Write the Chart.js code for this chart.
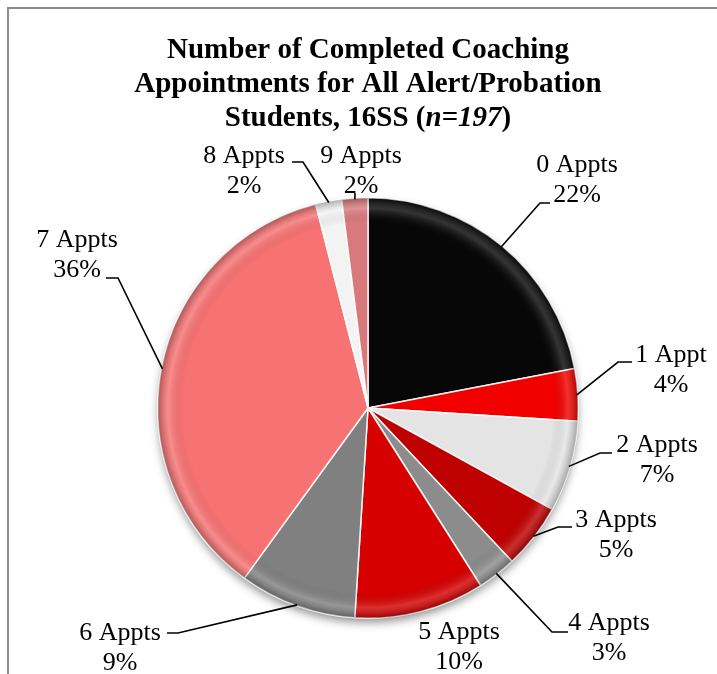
<!DOCTYPE html>
<html><head><meta charset="utf-8">
<script src="https://cdn.jsdelivr.net/npm/chart.js@4.4.1/dist/chart.umd.min.js"></script>
<style>html,body{margin:0;padding:0;background:#fff;} canvas{display:block;}</style>
</head><body>
<canvas id="c" width="717" height="674"></canvas>
<script>
// ---- data ----
const categories = ['0 Appts','1 Appt','2 Appts','3 Appts','4 Appts','5 Appts','6 Appts','7 Appts','8 Appts','9 Appts'];
const percentValues = [22, 4, 7, 5, 3, 10, 9, 36, 2, 2];
const titleLines = ['Number of Completed Coaching', 'Appointments for All Alert/Probation'];
const titleLastLine = [['Students, 16SS (', false], ['n=197', true], [')', false]];

// ---- styles / layout ----
const sliceColors = ['#070707','#f20000','#e4e4e4','#bf0000','#8c8c8c','#d60000','#808080','#f77272','#f3f3f3','#d87a7d'];
const labelLayout = [
  {x:577, y:165, leader:[550,203,540,203]},
  {x:671, y:355, leader:[632,362,618,362]},
  {x:657, y:445, leader:[612,453,600,453]},
  {x:616, y:520, leader:[572,527,558,527]},
  {x:609, y:623, leader:[568,632,552,632]},
  {x:459, y:632, leader:null},
  {x:120, y:633, leader:[167,633,178,633]},
  {x:77,  y:240, leader:[106,278,118,278]},
  {x:244, y:156, leader:[292,162,303,162]},
  {x:361, y:156, leader:[355,193,355,193]}
];
const LABEL_FONT = '26px "Liberation Serif", "Times New Roman", serif';
const TITLE_FONT = 'bold 29px "Liberation Serif", "Times New Roman", serif';
const TITLE_FONT_I = 'italic bold 29px "Liberation Serif", "Times New Roman", serif';

const framePlugin = {
  id: 'frame',
  beforeDraw(chart) {
    const ctx = chart.ctx;
    ctx.save();
    ctx.fillStyle = '#fff';
    ctx.fillRect(0, 0, chart.width, chart.height);
    ctx.strokeStyle = '#8c8c8c';
    ctx.lineWidth = 2;
    ctx.beginPath();
    ctx.moveTo(8, chart.height);
    ctx.lineTo(8, 8);
    ctx.lineTo(chart.width, 8);
    ctx.stroke();
    ctx.restore();
  }
};

const shadowPlugin = {
  id: 'pieShadow',
  beforeDatasetsDraw(chart) {
    const arc = chart.getDatasetMeta(0).data[0];
    if (!arc) return;
    const ctx = chart.ctx;
    ctx.save();
    ctx.shadowColor = 'rgba(0,0,0,0.45)';
    ctx.shadowBlur = 10;
    ctx.shadowOffsetY = 5;
    ctx.fillStyle = '#fff';
    ctx.beginPath();
    ctx.arc(arc.x, arc.y, arc.outerRadius - 1, 0, Math.PI * 2);
    ctx.fill();
    ctx.restore();
  },
  afterDatasetsDraw(chart) {
    const ctx = chart.ctx;
    chart.getDatasetMeta(0).data.forEach(arc => {
      const r = arc.outerRadius;
      ctx.save();
      ctx.beginPath();
      ctx.moveTo(arc.x, arc.y);
      ctx.arc(arc.x, arc.y, r, arc.startAngle, arc.endAngle);
      ctx.closePath();
      ctx.clip();
      const g = ctx.createRadialGradient(arc.x, arc.y, 0, arc.x, arc.y, r);
      g.addColorStop(0, 'rgba(0,0,0,0)');
      g.addColorStop(0.88, 'rgba(0,0,0,0)');
      g.addColorStop(0.95, 'rgba(255,255,255,0.18)');
      g.addColorStop(1, 'rgba(0,0,0,0.28)');
      ctx.fillStyle = g;
      ctx.fillRect(arc.x - r, arc.y - r, 2 * r, 2 * r);
      ctx.restore();
    });
  }
};

const labelPlugin = {
  id: 'sliceLabels',
  afterDraw(chart) {
    const ctx = chart.ctx;
    const meta = chart.getDatasetMeta(0);
    const data = chart.data.datasets[0].data;
    const total = data.reduce((a, b) => a + b, 0);
    ctx.save();
    // title
    ctx.fillStyle = '#000';
    ctx.textBaseline = 'alphabetic';
    ctx.textAlign = 'center';
    ctx.font = TITLE_FONT;
    const cx = 368;
    titleLines.forEach((t, i) => ctx.fillText(t, cx, 58 + i * 34));
    ctx.textAlign = 'left';
    let widths = titleLastLine.map(([t, it]) => { ctx.font = it ? TITLE_FONT_I : TITLE_FONT; return ctx.measureText(t).width; });
    let xx = cx - widths.reduce((a, b) => a + b, 0) / 2;
    titleLastLine.forEach(([t, it], i) => { ctx.font = it ? TITLE_FONT_I : TITLE_FONT; ctx.fillText(t, xx, 126); xx += widths[i]; });

    // labels
    ctx.font = LABEL_FONT;
    ctx.textAlign = 'center';
    ctx.textBaseline = 'middle';
    ctx.strokeStyle = '#000';
    ctx.lineWidth = 1.6;
    meta.data.forEach((arc, i) => {
      const L = labelLayout[i];
      const pct = Math.round(data[i] / total * 100) + '%';
      ctx.fillStyle = '#000';
      ctx.fillText(chart.data.labels[i], L.x, L.y);
      ctx.fillText(pct, L.x, L.y + 30);
      if (L.leader) {
        const mid = (arc.startAngle + arc.endAngle) / 2;
        const ex = arc.x + Math.cos(mid) * (arc.outerRadius - 1);
        const ey = arc.y + Math.sin(mid) * (arc.outerRadius - 1);
        ctx.beginPath();
        ctx.moveTo(L.leader[0], L.leader[1]);
        ctx.lineTo(L.leader[2], L.leader[3]);
        ctx.lineTo(ex, ey);
        ctx.stroke();
      }
    });
    ctx.restore();
  }
};

new Chart(document.getElementById('c'), {
  type: 'pie',
  data: {
    labels: categories,
    datasets: [{
      data: percentValues,
      backgroundColor: sliceColors,
      borderColor: 'rgba(255,255,255,0.9)',
      borderWidth: 1.5
    }]
  },
  options: {
    responsive: false,
    animation: false,
    devicePixelRatio: 1,
    layout: { padding: { left: 157, right: 138, top: 197, bottom: 55 } },
    plugins: { legend: { display: false }, tooltip: { enabled: false }, title: { display: false } }
  },
  plugins: [framePlugin, shadowPlugin, labelPlugin]
});
</script>
</body></html>
